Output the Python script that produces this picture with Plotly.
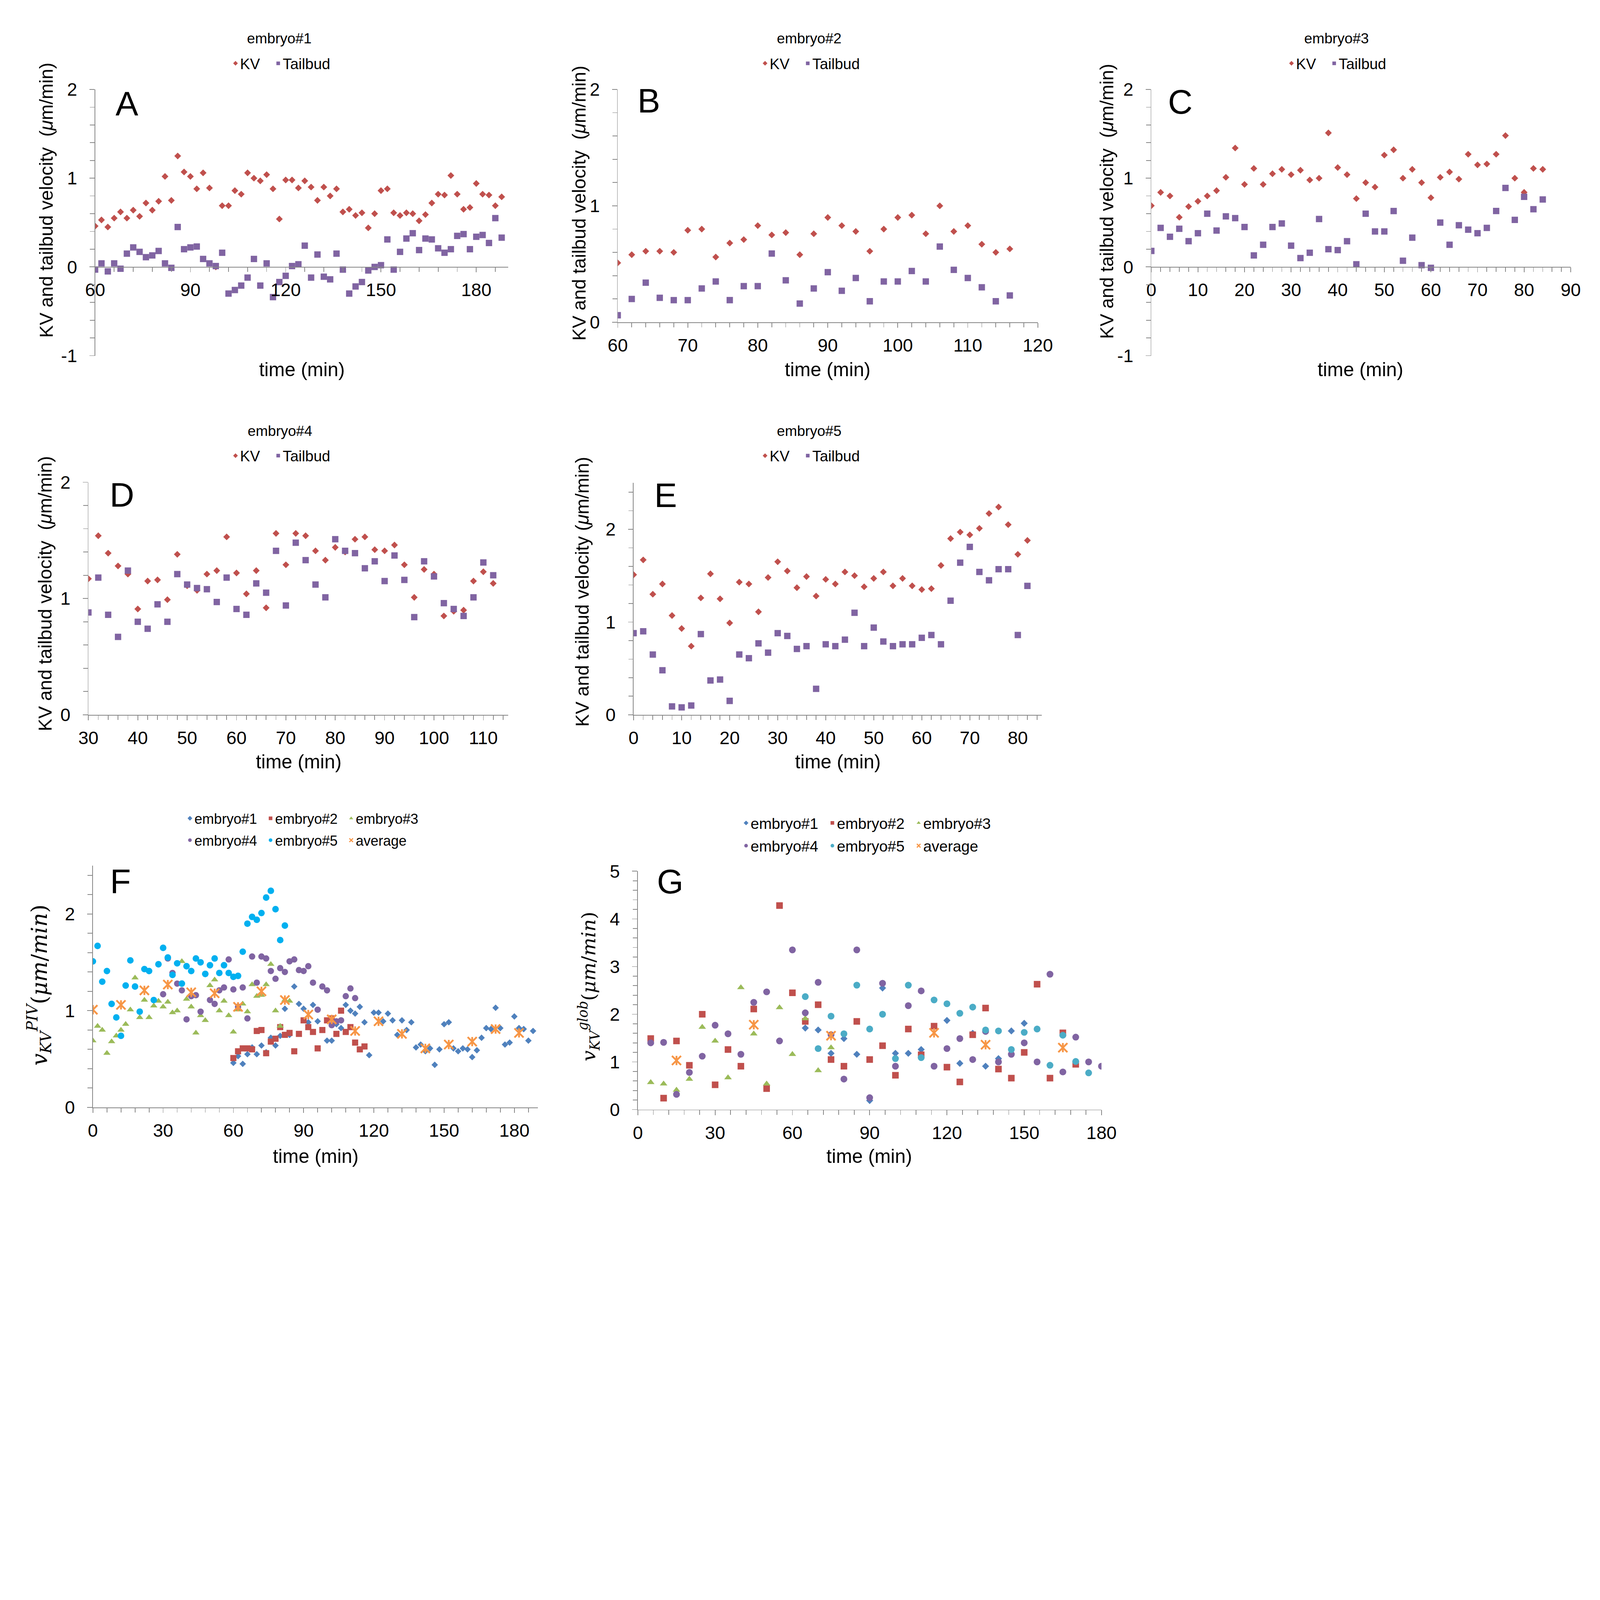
import plotly.graph_objects as go

W, H = 7048, 5267
SANS = "Liberation Sans, Arial, Helvetica, sans-serif"
SERIF = "DejaVu Serif, Liberation Serif, serif"
AXIS_GRAY = "#868686"
RED = "#C0504D"
PURPLE = "#8064A2"
BLUE = "#4F81BD"
GREEN = "#9BBB59"
CYAN_F = "#00B0F0"
CYAN_G = "#4BACC6"
ORANGE = "#F79646"
NB = "\u00a0"

# ---------------- data ----------------
# embryo#1 (panel A)
t1 = list(range(60, 190, 2))
kv1 = [0.46, 0.53, 0.45, 0.55, 0.62, 0.55, 0.64, 0.57, 0.72, 0.64,
       0.74, 1.02, 0.75, 1.25, 1.07, 1.02, 0.88, 1.06, 0.89, 0.00,
       0.69, 0.69, 0.86, 0.82, 1.06, 1.00, 0.97, 1.04, 0.88, 0.54,
       0.98, 0.98, 0.89, 0.97, 0.90, 0.75, 0.90, 0.80, 0.88, 0.62,
       0.65, 0.58, 0.61, 0.44, 0.60, 0.86, 0.88, 0.61, 0.58, 0.61,
       0.60, 0.52, 0.59, 0.72, 0.82, 0.81, 1.03, 0.82, 0.65, 0.67,
       0.94, 0.82, 0.81, 0.69, 0.79]
tb1 = [-0.03, 0.04, -0.05, 0.04, -0.02, 0.15, 0.22, 0.17, 0.11, 0.13,
       0.18, 0.04, -0.01, 0.45, 0.20, 0.22, 0.23, 0.09, 0.04, 0.01,
       0.16, -0.30, -0.26, -0.21, -0.12, 0.09, -0.21, 0.04, -0.34, -0.17,
       -0.10, 0.01, 0.03, 0.24, -0.12, 0.14, -0.11, -0.14, 0.15, -0.03,
       -0.30, -0.22, -0.17, -0.04, 0.00, 0.02, 0.31, -0.03, 0.17, 0.32,
       0.38, 0.19, 0.32, 0.31, 0.21, 0.16, 0.20, 0.35, 0.37, 0.20,
       0.34, 0.36, 0.27, 0.55, 0.33]

# embryo#2 (panel B)
t2 = list(range(60, 118, 2))
kv2 = [0.51, 0.58, 0.61, 0.61, 0.60, 0.79, 0.80, 0.56, 0.68, 0.71,
       0.83, 0.75, 0.77, 0.58, 0.76, 0.90, 0.83, 0.78, 0.61, 0.80,
       0.90, 0.92, 0.76, 1.00, 0.78, 0.83, 0.67, 0.60, 0.63]
tb2 = [0.06, 0.20, 0.34, 0.21, 0.19, 0.19, 0.29, 0.35, 0.19, 0.31,
       0.31, 0.59, 0.36, 0.16, 0.29, 0.43, 0.27, 0.38, 0.18, 0.35,
       0.35, 0.44, 0.35, 0.65, 0.45, 0.38, 0.30, 0.18, 0.23]

# embryo#3 (panel C)
t3 = list(range(0, 86, 2))
kv3 = [0.69, 0.84, 0.80, 0.56, 0.68, 0.74, 0.80, 0.86, 1.01, 1.34,
       0.93, 1.11, 0.93, 1.05, 1.10, 1.04, 1.09, 0.98, 1.00, 1.51,
       1.12, 1.04, 0.77, 0.95, 0.90, 1.26, 1.32, 1.00, 1.10, 0.95,
       0.78, 1.01, 1.07, 0.99, 1.27, 1.15, 1.16, 1.27, 1.48, 1.00,
       0.84, 1.11, 1.10]
tb3 = [0.18, 0.44, 0.34, 0.43, 0.29, 0.38, 0.60, 0.41, 0.57, 0.55,
       0.45, 0.13, 0.25, 0.45, 0.49, 0.24, 0.10, 0.16, 0.54, 0.20,
       0.19, 0.29, 0.03, 0.60, 0.40, 0.40, 0.63, 0.07, 0.33, 0.02,
       -0.01, 0.50, 0.25, 0.47, 0.42, 0.38, 0.44, 0.63, 0.89, 0.53,
       0.79, 0.65, 0.76]

# embryo#4 (panel D)
t4 = list(range(30, 114, 2))
kv4 = [1.17, 1.54, 1.39, 1.28, 1.21, 0.91, 1.15, 1.16, 0.99, 1.38,
       1.11, 1.07, 1.21, 1.24, 1.53, 1.22, 1.04, 1.24, 0.92, 1.56,
       1.29, 1.56, 1.54, 1.41, 1.33, 1.44, 1.40, 1.51, 1.53, 1.42,
       1.41, 1.46, 1.29, 1.01, 1.25, 1.21, 0.85, 0.89, 0.90, 1.15,
       1.23, 1.13]
tb4 = [0.88, 1.18, 0.86, 0.67, 1.24, 0.80, 0.74, 0.95, 0.80, 1.21,
       1.12, 1.09, 1.08, 0.97, 1.18, 0.91, 0.86, 1.13, 1.05, 1.41,
       0.94, 1.48, 1.33, 1.12, 1.01, 1.51, 1.41, 1.39, 1.26, 1.32,
       1.15, 1.37, 1.16, 0.84, 1.32, 1.19, 0.96, 0.91, 0.85, 1.01,
       1.31, 1.20]

# embryo#5 (panel E)
t5 = list(range(0, 84, 2))
kv5 = [1.51, 1.67, 1.30, 1.41, 1.07, 0.93, 0.74, 1.26, 1.52, 1.25,
       0.99, 1.43, 1.41, 1.11, 1.48, 1.65, 1.55, 1.37, 1.49, 1.28,
       1.46, 1.41, 1.54, 1.50, 1.38, 1.47, 1.54, 1.39, 1.47, 1.39,
       1.35, 1.36, 1.61, 1.90, 1.97, 1.94, 2.01, 2.17, 2.24, 2.05,
       1.73, 1.88]
tb5 = [0.88, 0.90, 0.65, 0.48, 0.09, 0.08, 0.10, 0.87, 0.37, 0.38,
       0.15, 0.65, 0.61, 0.77, 0.67, 0.88, 0.85, 0.71, 0.74, 0.28,
       0.76, 0.74, 0.81, 1.10, 0.74, 0.94, 0.79, 0.74, 0.76, 0.76,
       0.83, 0.86, 0.76, 1.23, 1.64, 1.81, 1.54, 1.45, 1.57, 1.57,
       0.86, 1.39]

# panel F: average of PIV KV velocity
tavgF = [0, 12, 22, 32, 42, 52, 62, 72, 82, 92, 102, 112, 122, 132, 142, 152, 162, 172, 182]
avgF = [1.01, 1.06, 1.21, 1.27, 1.19, 1.18, 1.04, 1.20, 1.11, 0.96,
        0.91, 0.79, 0.89, 0.76, 0.61, 0.65, 0.68, 0.81, 0.77]

# panel G: global KV velocity
tg1 = [65, 70, 75, 80, 85, 90, 95, 100, 105, 110, 120, 125, 130, 135, 140, 145, 150]
g1 = [1.71, 1.67, 1.18, 1.49, 1.16, 0.19, 2.55, 1.18, 1.18, 1.26, 1.87, 0.97, 1.60, 0.91, 1.07, 1.65, 1.81]
tg2 = list(range(5, 175, 5))
g2 = [1.49, 0.24, 1.44, 0.93, 2.00, 0.52, 1.26, 0.91, 2.11, 0.44,
      4.28, 2.45, 1.85, 2.20, 1.05, 0.91, 1.85, 1.05, 1.34, 0.72,
      1.69, 1.15, 1.75, 0.89, 0.58, 1.57, 2.13, 0.85, 0.66, 1.20,
      2.63, 0.66, 1.61, 0.95]
tg3 = list(range(5, 80, 5))
g3 = [0.57, 0.54, 0.41, 0.64, 1.73, 1.44, 0.67, 2.56, 1.59, 0.54, 2.14, 1.16, 1.91, 0.82, 1.30]
tg4 = list(range(5, 185, 5))
g4 = [1.40, 1.41, 0.32, 0.78, 1.12, 1.77, 1.59, 1.16, 2.25, 2.47,
      1.44, 3.35, 2.03, 2.67, 1.57, 0.64, 3.35, 0.25, 2.65, 0.91,
      2.18, 2.49, 0.91, 1.28, 1.49, 1.05, 1.64, 1.00, 1.16, 1.40,
      1.00, 2.84, 0.79, 1.52, 1.00, 0.91]
tg5 = list(range(65, 180, 5))
g5 = [2.37, 1.28, 1.96, 1.59, 2.61, 1.69, 2.00, 1.07, 2.61, 1.09,
      2.30, 2.22, 2.02, 2.15, 1.67, 1.65, 1.26, 1.62, 1.69, 0.93,
      1.56, 1.01, 0.77]
tavgG = [15, 45, 75, 115, 135, 165]
avgG = [1.03, 1.78, 1.55, 1.61, 1.36, 1.30]

# ---------------- layout helpers ----------------
def fx(p):
    return p / W


def fy(p):
    return 1 - p / H


# key: (x0, x1, ytop, ybottom) in px, xrange, yrange, xdtick, xminor, ydtick, yminor
panels = [
    ("A", (381, 2229, 356, 1549), [60, 190], [-1, 2], 30, 6, 1, 0.2),
    ("B", (2720, 4600, 356, 1399), [60, 120], [0, 2], 10, 2, 1, 0.2),
    ("C", (5108, 6985, 356, 1549), [0, 90], [-1, 2], 10, 2, 1, 0.2),
    ("D", (351, 2229, 2116, 3158), [30, 115], [0, 2], 10, 2, 1, 0.2),
    ("E", (2791, 4618, 2119, 3158), [0, 85], [0, 2.5], 10, 2, 1, 0.2),
    ("F", (371, 2362, 3834, 4917), [0, 190], [0, 2.5], 30, 6, 1, 0.2),
    ("G", (2810, 4885, 3859, 4927), [0, 180], [0, 5], 30, 6, 1, 0.2),
]

fig = go.Figure()
layout = dict(
    width=W, height=H, autosize=False,
    margin=dict(l=0, r=0, t=0, b=0),
    paper_bgcolor="white", plot_bgcolor="white",
    font=dict(family=SANS, color="black"),
    showlegend=True,
)

tick_common = dict(
    showline=True, linecolor=AXIS_GRAY, linewidth=3,
    ticks="outside", ticklen=22, tickwidth=3, tickcolor=AXIS_GRAY,
    showgrid=False, zeroline=False,
    tickfont=dict(family=SANS, size=80, color="black"),
)

for n, (key, (x0, x1, yt, yb), xr, yr, xdt, xmn, ydt, ymn) in enumerate(panels, start=1):
    sx = "" if n == 1 else str(n)
    xdom = [fx(x0), fx(x1)]
    ydom = [fy(yb), fy(yt)]
    xa = dict(tick_common, domain=xdom, range=xr, tick0=xr[0], dtick=xdt,
              ticklabelstandoff=8,
              minor=dict(tick0=xr[0], dtick=xmn, ticks="outside", ticklen=20,
                         tickwidth=3, tickcolor=AXIS_GRAY, showgrid=False))
    if yr[0] < 0:
        pos = ydom[0] + (0 - yr[0]) / (yr[1] - yr[0]) * (ydom[1] - ydom[0])
        xa.update(anchor="free", position=pos)
    else:
        xa.update(anchor="y" + sx)
    ya = dict(tick_common, domain=ydom, range=yr, anchor="x" + sx,
              ticklabelstandoff=38,
              minor=dict(tick0=yr[0], dtick=ymn, ticks="outside", ticklen=20,
                         tickwidth=3, tickcolor=AXIS_GRAY, showgrid=False))
    if yr[0] < 0:
        vals = [-1, 0, 1, 2]
        ya.update(tickmode="array", tickvals=vals, ticktext=[str(v) for v in vals])
    else:
        ya.update(tick0=0, dtick=ydt)
    layout["xaxis" + sx] = xa
    layout["yaxis" + sx] = ya

# ---------------- traces: panels A-E ----------------
single = [(t1, kv1, tb1), (t2, kv2, tb2), (t3, kv3, tb3), (t4, kv4, tb4), (t5, kv5, tb5)]
for n, (t, kv, tb) in enumerate(single, start=1):
    sx = "" if n == 1 else str(n)
    lg = "legend" + sx
    fig.add_trace(go.Scatter(x=t, y=kv, mode="markers", name="KV" + NB * 3,
                             marker=dict(symbol="diamond", size=23, color=RED),
                             xaxis="x" + sx, yaxis="y" + sx, legend=lg))
    fig.add_trace(go.Scatter(x=t, y=tb, mode="markers", name="Tailbud",
                             marker=dict(symbol="square", size=28, color=PURPLE),
                             xaxis="x" + sx, yaxis="y" + sx, legend=lg))

# ---------------- panel F (same KV series; the zero glitch of embryo#1 is not drawn there) ----------------
kv1_f = [v if v > 0 else None for v in kv1]
f_series = [
    ("embryo#1" + NB * 2, t1, kv1_f, "diamond", 22, BLUE, "legend6"),
    ("embryo#2" + NB * 2, t2, kv2, "square", 27, RED, "legend6"),
    ("embryo#3", t3, kv3, "triangle-up", 28, GREEN, "legend6"),
    ("embryo#4" + NB * 2, t4, kv4, "circle", 28, PURPLE, "legend7"),
    ("embryo#5" + NB * 2, t5, kv5, "circle", 29, CYAN_F, "legend7"),
]
for name, t, v, sym, sz, col, lg in f_series:
    fig.add_trace(go.Scatter(x=t, y=v, mode="markers", name=name,
                             marker=dict(symbol=sym, size=sz, color=col),
                             xaxis="x6", yaxis="y6", legend=lg))
fig.add_trace(go.Scatter(x=tavgF, y=avgF, mode="markers", name="average",
                         marker=dict(symbol="x-thin-open", size=40, color=ORANGE,
                                     line=dict(width=8, color=ORANGE)),
                         xaxis="x6", yaxis="y6", legend="legend7"))
fig.add_trace(go.Scatter(x=tavgF, y=avgF, mode="markers", name="average", showlegend=False,
                         marker=dict(symbol="line-ns-open", size=29, color=ORANGE,
                                     line=dict(width=8, color=ORANGE)),
                         xaxis="x6", yaxis="y6", legend="legend7"))

# ---------------- panel G ----------------
g_series = [
    ("embryo#1" + NB * 2, tg1, g1, "diamond", 24, BLUE, "legend8"),
    ("embryo#2" + NB * 2, tg2, g2, "square", 29, RED, "legend8"),
    ("embryo#3", tg3, g3, "triangle-up", 29, GREEN, "legend8"),
    ("embryo#4" + NB * 2, tg4, g4, "circle", 30, PURPLE, "legend9"),
    ("embryo#5" + NB * 2, tg5, g5, "circle", 30, CYAN_G, "legend9"),
]
for name, t, v, sym, sz, col, lg in g_series:
    fig.add_trace(go.Scatter(x=t, y=v, mode="markers", name=name,
                             marker=dict(symbol=sym, size=sz, color=col),
                             xaxis="x7", yaxis="y7", legend=lg))
fig.add_trace(go.Scatter(x=tavgG, y=avgG, mode="markers", name="average",
                         marker=dict(symbol="x-thin-open", size=40, color=ORANGE,
                                     line=dict(width=8, color=ORANGE)),
                         xaxis="x7", yaxis="y7", legend="legend9"))
fig.add_trace(go.Scatter(x=tavgG, y=avgG, mode="markers", name="average", showlegend=False,
                         marker=dict(symbol="line-ns-open", size=29, color=ORANGE,
                                     line=dict(width=8, color=ORANGE)),
                         xaxis="x7", yaxis="y7", legend="legend9"))

# ---------------- legends ----------------
def legend(xpx, ypx, size):
    return dict(orientation="h", x=fx(xpx), xanchor="left", y=fy(ypx), yanchor="middle",
                font=dict(family=SANS, size=size, color="black"),
                bgcolor="rgba(0,0,0,0)", borderwidth=0, traceorder="normal")

layout["legend"] = legend(989, 239, 66)
layout["legend2"] = legend(3359, 239, 66)
layout["legend3"] = legend(5715, 239, 66)
layout["legend4"] = legend(989, 1997, 66)
layout["legend5"] = legend(3359, 1997, 66)
layout["legend6"] = legend(785, 3622, 62)
layout["legend7"] = legend(785, 3720, 62)
layout["legend8"] = legend(3274, 3643, 67)
layout["legend9"] = legend(3274, 3745, 67)

# ---------------- annotations ----------------
ann = []


def text(xpx, ypx, s, size, angle=0, family=SANS):
    ann.append(dict(x=fx(xpx), y=fy(ypx), xref="paper", yref="paper", text=s,
                    showarrow=False, xanchor="center", yanchor="middle", textangle=angle,
                    font=dict(family=family, size=size, color="black")))


titles = [("embryo#1", 1205, 127), ("embryo#2", 3577, 127), ("embryo#3", 5937, 127),
          ("embryo#4", 1209, 1886), ("embryo#5", 3577, 1886)]
for s, x, y in titles:
    text(x, y, s, 64)

letters = [("A", 523, 421), ("B", 2859, 407), ("C", 5237, 412), ("D", 501, 2173),
           ("E", 2934, 2175), ("F", 495, 3903), ("G", 2955, 3906)]
for s, x, y in letters:
    text(x, y, s, 150)

ylab = "KV and tailbud velocity" + NB * 2 + "(<i>\u03bc</i>m/min)"
ylabE = "KV and tailbud velocity (<i>\u03bc</i>m/min)"
text(163, 852, ylab, 83, -90)
text(2546, 865, ylab, 83, -90)
text(4908, 857, ylab, 83, -90)
text(158, 2615, ylab, 83, -90)
text(2561, 2607, ylabE, 83, -90)

text(131, 4369, "<i>v</i><sub><i>KV</i></sub><sup><i>PIV</i></sup>(<i>\u03bcm</i>/<i>min</i>)", 95, -90, SERIF)
text(2590, 4375, "<i>v</i><sub><i>KV</i></sub><sup><i>glob</i></sup>(<i>\u03bcm</i>/<i>min</i>)", 85, -90, SERIF)

xt = [(1307, 1611), (3660, 1611), (6044, 1611), (1292, 3367), (3705, 3367), (1369, 5136), (3846, 5136)]
for x, y in xt:
    text(x, y, "time (min)", 85)

layout["annotations"] = ann
fig.update_layout(**layout)

# keep the whole 7048x5267 figure inside the browser viewport, pinned to the top-left corner
fit_js = """
(function(){
  var gd = document.getElementById('{plot_id}');
  var de = document.documentElement;
  de.style.margin = '0'; de.style.padding = '0'; de.style.overflow = 'hidden';
  document.body.style.margin = '0'; document.body.style.padding = '0';
  document.body.style.overflow = 'hidden';
  function fit(){
    var vw = de.clientWidth || window.innerWidth;
    var vh = de.clientHeight || window.innerHeight;
    var s = Math.min(vw / %d, vh / %d);
    if (!(s > 0) || s > 1) { s = 1; }
    gd.style.position = 'absolute';
    gd.style.left = '0px';
    gd.style.top = '0px';
    gd.style.transformOrigin = '0 0';
    gd.style.transform = 'scale(' + s + ')';
  }
  fit();
  window.addEventListener('resize', fit);
})();
""" % (W, H)

fig.write_html("out.html", post_script=fit_js, config={"displayModeBar": False})
